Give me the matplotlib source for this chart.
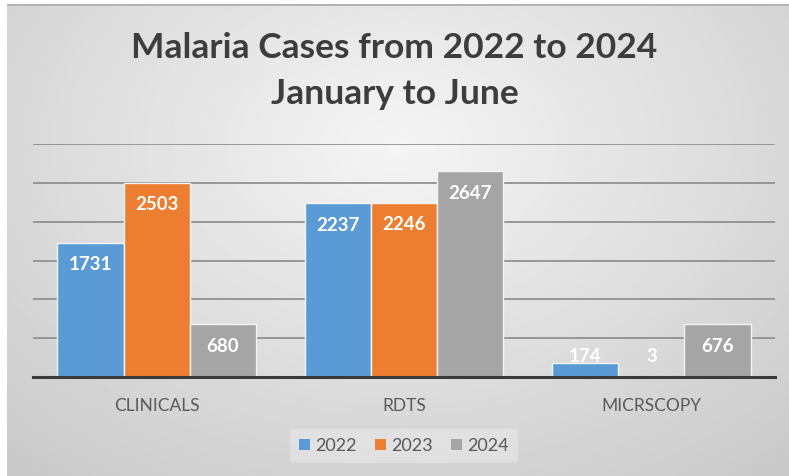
import numpy as np
import matplotlib
matplotlib.use("Agg")
import matplotlib.pyplot as plt
from matplotlib.patches import Patch

categories = ["CLINICALS", "RDTS", "MICRSCOPY"]
years = ["2022", "2023", "2024"]
cases_2022 = [1731, 2237, 174]
cases_2023 = [2503, 2246, 3]
cases_2024 = [680, 2647, 676]

COLORS = ["#5B9BD5", "#ED7D31", "#A5A5A5"]
TEXT_DARK = "#3d3d3d"
TEXT_MID = "#595959"

plt.rcParams["font.family"] = ["Lato", "DejaVu Sans"]

fig = plt.figure(figsize=(7.89, 4.76), dpi=100)
fig.patch.set_facecolor("white")

# radial grey gradient background like the Office chart style
bg = fig.add_axes([7 / 789, 0, 1 - 7 / 789, 1 - 4 / 476])
yy, xx = np.mgrid[0:1:300j, 0:1:500j]
r = np.sqrt(((xx - 0.5) / 0.75) ** 2 + ((yy - 0.3) / 0.9) ** 2)
shade = 0.96 - 0.17 * np.clip(r, 0, 1)
bg.imshow(shade, cmap="gray", vmin=0, vmax=1, aspect="auto", extent=[0, 1, 1, 0])
bg.axhline(0.0, color="#b0b0b0", lw=2)
bg.set_axis_off()

ax = fig.add_axes([33 / 789, 1 - 377 / 476, (775 - 33) / 789, (377 - 144) / 476])
ax.set_facecolor("none")

x = np.arange(len(categories))
width = 0.268
series = [cases_2022, cases_2023, cases_2024]
for i, (vals, color, yr) in enumerate(zip(series, COLORS, years)):
    pos = x + (i - 1) * width
    ax.bar(pos, vals, width=width, color=color, edgecolor="#f4f4f4",
           linewidth=1.0, zorder=3, label=yr)
    for px, v in zip(pos, vals):
        ax.text(px, max(v - 282, 270), str(v), ha="center", va="center",
                color="white", fontsize=13.5, fontweight="bold", zorder=4)

ax.set_xlim(-0.5, 2.5)
ax.set_ylim(0, 3000)
ax.set_yticks(np.arange(500, 3001, 500))
ax.yaxis.grid(True, color="#8a8a8a", lw=1.2, zorder=0)
ax.tick_params(axis="y", length=0, labelleft=False)
ax.set_xticks(x)
ax.set_xticklabels(categories, fontsize=12.5, color=TEXT_MID)
ax.tick_params(axis="x", length=0, pad=15)
for s in ["top", "right", "left"]:
    ax.spines[s].set_visible(False)
ax.spines["bottom"].set_color("#3a3a3a")
ax.spines["bottom"].set_linewidth(2.2)
ax.spines["bottom"].set_zorder(5)

fig.text(0.5, 1 - 48 / 476, "Malaria Cases from 2022 to 2024", ha="center",
         va="center", fontsize=25.5, fontweight="bold", color=TEXT_DARK)
fig.text(0.5, 1 - 94 / 476, "January to June", ha="center", va="center",
         fontsize=25.5, fontweight="bold", color=TEXT_DARK)

handles = [Patch(facecolor=c, edgecolor="none", label=y) for c, y in zip(COLORS, years)]
leg = fig.legend(handles=handles, loc="center", bbox_to_anchor=(404 / 789, 1 - 446 / 476),
                 ncol=3, frameon=True, fontsize=13, handlelength=0.6, handleheight=0.6,
                 handletextpad=0.3, columnspacing=1.0, borderpad=0.5)
leg.get_frame().set_facecolor("#e4e4e4")
leg.get_frame().set_edgecolor("none")
leg.get_frame().set_alpha(0.8)
for t in leg.get_texts():
    t.set_color(TEXT_MID)

fig.savefig("out.png", dpi=100)
